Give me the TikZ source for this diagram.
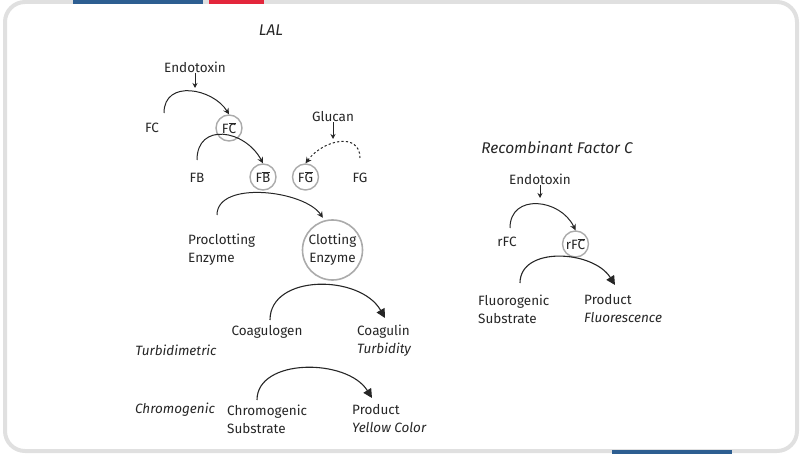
\documentclass[tikz,border=0pt]{standalone}
\usepackage{fontspec}
\setmainfont{Fira Sans}
\usetikzlibrary{arrows.meta}
\definecolor{txt}{HTML}{262626}
\definecolor{ringc}{HTML}{ABABAB}
\definecolor{framec}{HTML}{E0E0E0}
\definecolor{barblue}{HTML}{2D5E91}
\definecolor{barred}{HTML}{E3263B}
\newcommand{\ob}[1]{$\overline{\mbox{#1}}$}
\begin{document}
\begin{tikzpicture}[x=1pt,y=-1pt,
  every node/.style={text=txt, font=\fontsize{13.5}{18}\selectfont, inner sep=0pt},
  lblL/.style={align=left, anchor=west},
  ringn/.style={circle, draw=ringc, line width=1.4pt, minimum size=26pt},
  bigring/.style={circle, draw=ringc, line width=1.6pt, minimum size=60pt, align=center},
  arcs/.style={draw=txt, line width=1pt, -{Stealth[length=6pt,width=6pt]}},
  arcb/.style={draw=txt, line width=1.1pt, -{Triangle[length=9pt,width=9pt]}},
  downa/.style={draw=txt, line width=1pt, -{Stealth[length=5pt,width=5pt]}},
  titlef/.style={font=\fontsize{15.5}{18}\selectfont\itshape},
  itl/.style={font=\fontsize{13.5}{18}\selectfont\itshape}
]
\useasboundingbox (0,0) rectangle (800,454);
% frame
\draw[framec, line width=4pt, rounded corners=20pt] (5,2) rectangle (797,451);
\fill[barblue] (73,0) rectangle (203,4);
\fill[barred] (209,0) rectangle (264,4);
\fill[barblue] (612,450) rectangle (732,454);

% ---------- LAL ----------
\node[titlef] (lal) at (271,30) {LAL};
\node (endo1) at (195,67) {Endotoxin};
\coordinate (endo1t) at (195,88);
\draw[downa] (endo1.south) -- (endo1t);

\node (fc) at (152,128) {FC};
\node[ringn] (fcb) at (229,128) {F\ob{C}};
\coordinate (fcs) at (164,113);
\draw[arcs] (fcs) .. controls +(0,-34) and +(-16,-26) .. (fcb.north);

\node (glucan) at (333,117) {Glucan};
\coordinate (glucant) at (333,139);
\draw[downa] (glucan.south) -- (glucant);

\node (fb) at (197,178) {FB};
\node[ringn] (fbb) at (263,177) {F\ob{B}};
\node[ringn] (fgb) at (305.5,177) {F\ob{G}};
\node (fg) at (360,178) {FG};
\coordinate (fbs) at (197,160);
\draw[arcs] (fbs) .. controls +(0,-38) and +(-18,-34) .. (fbb.north);
\coordinate (fgs) at (360,158);
\draw[arcs, dash pattern=on 2.2pt off 2.2pt] (fgs) .. controls +(0,-26) and +(18,-24) .. (fgb.north);

\node[lblL] (pro) at (188,250) {Proclotting\\Enzyme};
\node[bigring] (ce) at (332.5,250) {Clotting\\Enzyme};
\coordinate (pros) at (217,215);
\draw[arcs, shorten >=3pt] (pros) .. controls +(0,-35) and +(-20,-30) .. (ce.105);

\node (coagen) at (267,332) {Coagulogen};
\node[lblL] (coagin) at (357,341) {Coagulin\\\textit{Turbidity}};
\node[itl] (turb) at (176,350) {Turbidimetric};
\coordinate (cgs) at (270,320);
\coordinate (cge) at (385,318);
\draw[arcb] (cgs) .. controls +(0,-46) and +(-25,-44) .. (cge);

\node[itl] (chromo) at (175,410) {Chromogenic};
\node[lblL] (chsub) at (227,419) {Chromogenic\\Substrate};
\node[lblL] (prod1) at (352,419) {Product\\\textit{Yellow Color}};
\coordinate (chs) at (257,400);
\coordinate (che) at (372,398);
\draw[arcb] (chs) .. controls +(0,-42) and +(-25,-40) .. (che);

% ---------- Recombinant Factor C ----------
\node[titlef] (rfctitle) at (557,148) {Recombinant Factor C};
\node (endo2) at (540,179) {Endotoxin};
\coordinate (endo2t) at (540,198);
\draw[downa] (endo2.south) -- (endo2t);

\node (rfc) at (507,242) {rFC};
\node[ringn] (rfcb) at (575.5,244) {rF\ob{C}};
\coordinate (rfcs) at (510,228);
\draw[arcs] (rfcs) .. controls +(0,-35) and +(-15,-32) .. (rfcb.north);

\node[lblL] (flsub) at (478,309) {Fluorogenic\\Substrate};
\node[lblL] (prod2) at (584,309) {Product\\\textit{Fluorescence}};
\coordinate (fls) at (520,283);
\coordinate (fle) at (615,285);
\draw[arcb] (fls) .. controls +(0,-37) and +(-22,-35) .. (fle);
\end{tikzpicture}
\end{document}
